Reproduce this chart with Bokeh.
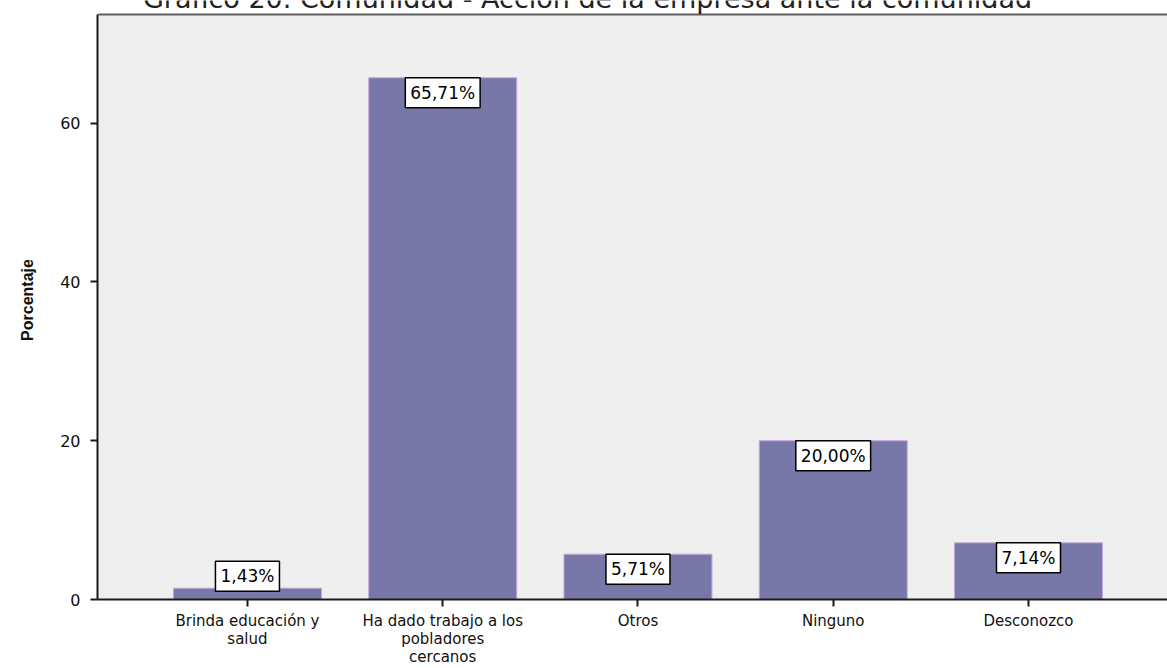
from bokeh.plotting import figure
from bokeh.models import Range1d, FixedTicker, Label, BoxAnnotation, Span
from bokeh.embed import file_html
from bokeh.resources import INLINE

title_text = "Gráfico 20. Comunidad - Acción de la empresa ante la comunidad"
categories = ["Brinda educación y\nsalud",
              "Ha dado trabajo a los\npobladores\ncercanos",
              "Otros", "Ninguno", "Desconozco"]
percentages = [1.43, 65.71, 5.71, 20.00, 7.14]
y_ticks = [0, 20, 40, 60]
y_label = "Porcentaje"
y_top = 73.68          # top of the grey plot area (axis maximum)

FONT = "DejaVu Sans"
BAR = "#7878A8"

W, H = 1167, 668
xs = list(range(1, len(categories) + 1))
px_per_unit = 587 / y_top
y_end = 601 / px_per_unit   # extra white strip above the plot area for the title

p = figure(width=W, height=H, output_backend="svg", toolbar_location=None,
           x_range=Range1d(0.232, 5.712), y_range=Range1d(0, y_end),
           min_border_left=97, min_border_right=0, min_border_top=0,
           min_border_bottom=67)

p.background_fill_color = "white"
p.border_fill_color = "white"
p.outline_line_color = None
p.xgrid.visible = False
p.ygrid.visible = False

# grey plot area and its top border
p.add_layout(BoxAnnotation(top=y_top, fill_color="#EFEFEF", fill_alpha=1.0,
                           line_color=None, level="underlay"))
p.add_layout(Span(location=y_top, dimension="width", line_color="#5e5e5e",
                  line_width=2))

p.vbar(x=xs, top=percentages, width=0.758, fill_color=BAR,
       line_color="#C6A8D8", line_width=1)

# x axis
p.xaxis.ticker = FixedTicker(ticks=xs)
p.xaxis.major_label_overrides = {x: c for x, c in zip(xs, categories)}
p.xaxis.major_label_text_font = FONT
p.xaxis.major_label_text_font_size = "15px"
p.xaxis.major_label_text_line_height = 1.0
p.xaxis.major_label_text_color = "#111111"
p.xaxis.major_label_standoff = 5
p.xaxis.major_tick_in = 0
p.xaxis.major_tick_out = 7
p.xaxis.major_tick_line_width = 2
p.xaxis.minor_tick_line_color = None
p.xaxis.axis_line_width = 2
p.xaxis.axis_line_color = "#1a1a1a"
p.xaxis.major_tick_line_color = "#1a1a1a"

# y axis
p.yaxis.ticker = FixedTicker(ticks=y_ticks)
p.yaxis.bounds = (0, y_top)
p.yaxis.major_label_text_font = FONT
p.yaxis.major_label_text_font_size = "16px"
p.yaxis.major_label_text_color = "#111111"
p.yaxis.major_label_standoff = 10
p.yaxis.major_tick_in = 0
p.yaxis.major_tick_out = 7
p.yaxis.major_tick_line_width = 2
p.yaxis.minor_tick_line_color = None
p.yaxis.axis_line_width = 2
p.yaxis.axis_line_color = "#1a1a1a"
p.yaxis.major_tick_line_color = "#1a1a1a"
p.yaxis.axis_label = y_label
p.yaxis.axis_label_text_font = "Liberation Sans"
p.yaxis.axis_label_text_font_size = "16px"
p.yaxis.axis_label_text_font_style = "bold"
p.yaxis.axis_label_text_color = "#111111"
p.yaxis.axis_label_standoff = 21

# value labels
PAD = 5
for x, v in zip(xs, percentages):
    txt = f"{v:.2f}%".replace(".", ",")
    inside = v * px_per_unit > 34
    lab = Label(x=x, y=v, text=txt, text_font=FONT, text_font_size="17px",
                text_color="black", text_align="center",
                text_baseline="top" if inside else "bottom",
                y_offset=0 if inside else -3,
                background_fill_color="white", border_line_color="black",
                border_line_width=1.5, padding=PAD)
    p.add_layout(lab)

# title (cut off at the top edge, as in the source image)
p.add_layout(Label(x=490, y=601, x_units="screen", y_units="screen",
                   text=title_text, text_font=FONT, text_font_size="27px",
                   text_color="#222222", text_align="center",
                   text_baseline="alphabetic"))

open("out.html", "w").write(file_html(p, INLINE))
